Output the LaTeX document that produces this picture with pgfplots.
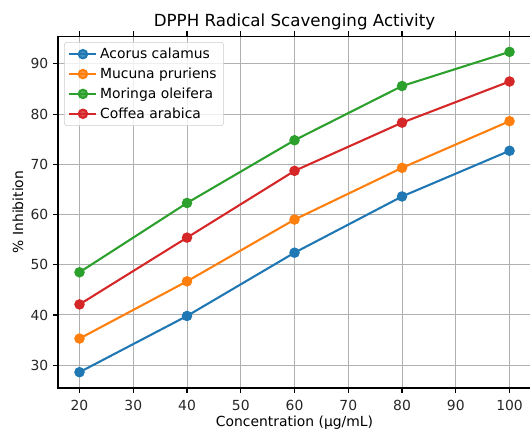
\documentclass[border=0pt]{standalone}
\usepackage{pgfplots}
\pgfplotsset{compat=1.18}
\usepackage{fontspec}
\setmainfont{DejaVu Sans}
\definecolor{cblue}{HTML}{1F77B4}
\definecolor{corange}{HTML}{FF7F0E}
\definecolor{cgreen}{HTML}{2CA02C}
\definecolor{cred}{HTML}{D62728}
\definecolor{gridgray}{HTML}{B0B0B0}
\begin{document}
\begin{tikzpicture}
\begin{axis}[
  at={(0pt,0pt)}, anchor=south west,
  scale only axis, width=340.6pt, height=253.4pt,
  xmin=16, xmax=104, ymin=25.45, ymax=95.55,
  xtick={20,30,...,100}, ytick={30,40,...,90},
  /pgf/number format/assume math mode=true,
  tick label style={font=\fontsize{10}{12}\selectfont, color=black!85},
  xticklabel style={yshift=-1.5pt},
  tick align=outside, major tick length=3.5pt,
  tick style={color=black, line width=0.8pt},
  axis line style={line width=0.8pt},
  grid=major, grid style={color=gridgray, line width=0.7pt},
  title={DPPH Radical Scavenging Activity},
  title style={font=\fontsize{12}{14}\selectfont, yshift=-5.5pt},
  xlabel={Concentration (µg/mL)},
  ylabel={\% Inhibition},
  label style={font=\fontsize{10}{12}\selectfont},
  xlabel style={at={(axis description cs:0.5,0)}, anchor=center, yshift=-24.6pt},
  ylabel style={at={(axis description cs:-0.0846,0.5)}, anchor=center},
  legend style={at={(0.0127,0.983)}, anchor=north west, draw=black!20,
    rounded corners=2pt, fill=white, fill opacity=0.8, text opacity=1,
    font=\fontsize{10}{12}\selectfont, cells={anchor=west}, row sep=1.2pt,
    inner xsep=3pt, inner ysep=2pt},
  legend image code/.code={\draw[mark repeat=2, mark phase=2]
    plot coordinates {(0cm,0cm) (0.34cm,0cm) (0.68cm,0cm)};},
  every axis plot/.append style={line width=1.5pt, mark=*, mark size=3pt,
    mark options={solid}},
]
\addplot[color=cblue] coordinates {(20,28.6) (40,39.8) (60,52.4) (80,63.6) (100,72.7)};
\addlegendentry{Acorus calamus}
\addplot[color=corange] coordinates {(20,35.3) (40,46.7) (60,59.0) (80,69.3) (100,78.6)};
\addlegendentry{Mucuna pruriens}
\addplot[color=cgreen] coordinates {(20,48.5) (40,62.3) (60,74.8) (80,85.6) (100,92.4)};
\addlegendentry{Moringa oleifera}
\addplot[color=cred] coordinates {(20,42.1) (40,55.4) (60,68.7) (80,78.3) (100,86.5)};
\addlegendentry{Coffea arabica}
\end{axis}
\pgfresetboundingbox
\path[use as bounding box] (-41.76pt,-28.8pt) rectangle (339.84pt,279.36pt);
\end{tikzpicture}
\end{document}
